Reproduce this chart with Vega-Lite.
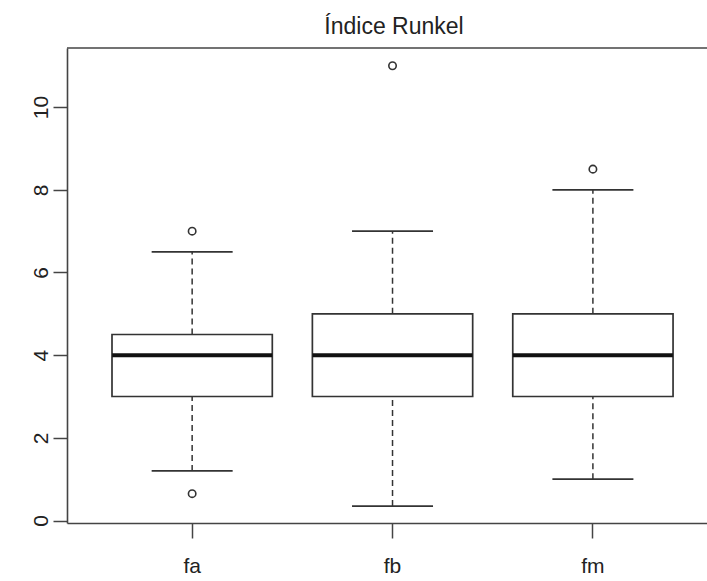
{
  "$schema": "https://vega.github.io/schema/vega-lite/v6.json",
  "autosize": {"type": "none"},
  "padding": {"left": 67, "top": 48, "right": 0, "bottom": 58},
  "width": 640,
  "height": 475,
  "background": "white",
  "title": {
    "text": "Índice Runkel",
    "fontSize": 23,
    "fontWeight": "normal",
    "font": "Liberation Sans",
    "color": "#222222",
    "anchor": "middle",
    "baseline": "alphabetic",
    "offset": 12,
    "dx": 7,
    "dy": 22
  },
  "config": {
    "font": "Liberation Sans",
    "view": {"stroke": null},
    "axis": {"grid": false, "title": null, "domain": true, "domainColor": "#444444", "domainWidth": 1.6}
  },
  "datasets": {
    "resumen": [
      {"grupo": "fa", "minimo": 1.2, "q1": 3, "mediana": 4, "q3": 4.5, "maximo": 6.5},
      {"grupo": "fb", "minimo": 0.35, "q1": 3, "mediana": 4, "q3": 5, "maximo": 7},
      {"grupo": "fm", "minimo": 1, "q1": 3, "mediana": 4, "q3": 5, "maximo": 8}
    ],
    "atipicos": [
      {"grupo": "fa", "valor": 7},
      {"grupo": "fa", "valor": 0.65},
      {"grupo": "fb", "valor": 11},
      {"grupo": "fm", "valor": 8.5}
    ]
  },
  "layer": [
    {
      "encoding": {
        "x": {
          "field": "grupo",
          "type": "nominal",
          "sort": ["fa", "fb", "fm"],
          "scale": {"paddingInner": 0.2, "paddingOuter": 0.197, "align": 0.57},
          "axis": {
            "labelAngle": 0,
            "labelFontSize": 21,
            "labelColor": "#222222",
            "tickSize": 15,
            "tickColor": "#444444",
            "tickWidth": 1.5,
            "labelPadding": 17
          }
        }
      },
      "layer": [
        {
          "data": {"name": "resumen"},
          "mark": {"type": "rule", "stroke": "#333333", "strokeWidth": 1.5, "strokeDash": [6, 4]},
          "encoding": {
            "y": {
              "field": "q3",
              "type": "quantitative",
              "scale": {"domain": [-0.06, 11.43], "nice": false, "zero": false},
              "axis": {
                "values": [0, 2, 4, 6, 8, 10],
                "labelAngle": -90,
                "labelAlign": "center",
                "labelBaseline": "alphabetic",
                "labelFontSize": 21,
                "labelColor": "#222222",
                "labelPadding": 6,
                "tickSize": 14,
                "tickColor": "#444444",
                "tickWidth": 1.5
              }
            },
            "y2": {"field": "maximo"}
          }
        },
        {
          "data": {"name": "resumen"},
          "mark": {"type": "rule", "stroke": "#333333", "strokeWidth": 1.5, "strokeDash": [6, 4]},
          "encoding": {
            "y": {"field": "minimo", "type": "quantitative"},
            "y2": {"field": "q1"}
          }
        },
        {
          "data": {"name": "resumen"},
          "mark": {"type": "rect", "fill": "white", "stroke": "#333333", "strokeWidth": 1.7},
          "encoding": {
            "y": {"field": "q1", "type": "quantitative"},
            "y2": {"field": "q3"}
          }
        },
        {
          "data": {"name": "resumen"},
          "mark": {"type": "tick", "color": "#111111", "size": 160, "thickness": 4, "opacity": 1},
          "encoding": {
            "y": {"field": "mediana", "type": "quantitative"}
          }
        },
        {
          "data": {"name": "resumen"},
          "mark": {"type": "tick", "color": "#333333", "size": 81, "thickness": 1.7, "opacity": 1},
          "encoding": {
            "y": {"field": "maximo", "type": "quantitative"}
          }
        },
        {
          "data": {"name": "resumen"},
          "mark": {"type": "tick", "color": "#333333", "size": 81, "thickness": 1.7, "opacity": 1},
          "encoding": {
            "y": {"field": "minimo", "type": "quantitative"}
          }
        },
        {
          "data": {"name": "atipicos"},
          "mark": {"type": "point", "shape": "circle", "filled": false, "stroke": "#333333", "strokeWidth": 1.6, "size": 55, "opacity": 1},
          "encoding": {
            "y": {"field": "valor", "type": "quantitative"}
          }
        }
      ]
    },
    {
      "description": "top edge of the plot frame, at the upper end of the y domain",
      "data": {"values": [{}]},
      "mark": {"type": "rule", "stroke": "#444444", "strokeWidth": 1.6},
      "encoding": {
        "y": {"datum": 11.43, "type": "quantitative"}
      }
    }
  ]
}
